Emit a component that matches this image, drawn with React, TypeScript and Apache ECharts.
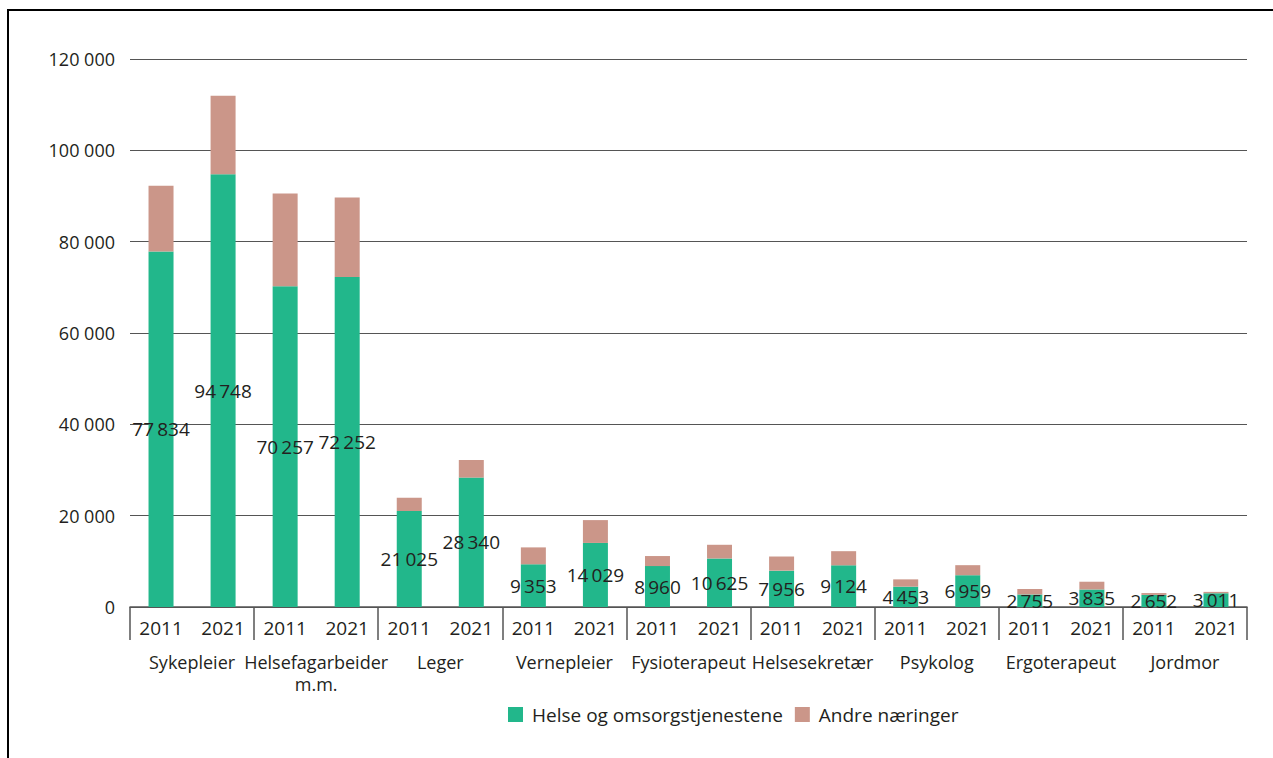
import React, { useEffect, useRef } from "react";
import * as echarts from "echarts";

const groups = [
  "Sykepleier",
  "Helsefagarbeider\nm.m.",
  "Leger",
  "Vernepleier",
  "Fysioterapeut",
  "Helsesekretær",
  "Psykolog",
  "Ergoterapeut",
  "Jordmor",
];
const years = ["2011", "2021"];
const helseOmsorg = [77834, 94748, 70257, 72252, 21025, 28340, 9353, 14029, 8960, 10625, 7956, 9124, 4453, 6959, 2755, 3835, 2652, 3011];
const andreNaeringer = [14400, 17200, 20300, 17400, 2900, 3850, 3700, 5000, 2200, 3000, 3100, 3100, 1600, 2200, 1200, 1700, 400, 300];
const yTicks = { min: 0, max: 120000, interval: 20000 };

const FONT = "'Open Sans', sans-serif";
const TEXT = "#231f20";

const fmt = (v: number, sep: string) =>
  String(Math.round(v)).replace(/\B(?=(\d{3})+(?!\d))/g, sep);

export default function App() {
  const ref = useRef<HTMLDivElement>(null);
  useEffect(() => {
    if (!ref.current) return;
    const chart = echarts.init(ref.current, null, { renderer: "svg" });
    const yearCats: string[] = [];
    groups.forEach(() => years.forEach((y) => yearCats.push(y)));
    chart.setOption({
      animation: false,
      textStyle: { fontFamily: FONT },
      grid: { left: 130, right: 26, top: 59, bottom: 151, containLabel: false },
      legend: {
        left: 508,
        top: 705,
        padding: 0,
        itemWidth: 15,
        itemHeight: 15,
        itemGap: 12,
        icon: "rect",
        textStyle: { fontFamily: FONT, fontSize: 19, color: TEXT, padding: [0, 0, 0, 4] },
        data: ["Helse og omsorgstjenestene", "Andre næringer"],
      },
      xAxis: [
        {
          type: "category",
          position: "bottom",
          data: yearCats,
          axisLine: { show: true, lineStyle: { color: "#555", width: 1.5 } },
          axisTick: { show: false },
          axisLabel: { interval: 0, margin: 11, fontSize: 19, lineHeight: 20, color: TEXT, fontFamily: FONT },
        },
        {
          type: "category",
          position: "bottom",
          offset: 0,
          data: groups,
          axisLine: { show: false },
          axisTick: { show: true, interval: 0, length: 33, lineStyle: { color: "#555", width: 1.5 } },
          axisLabel: { interval: 0, margin: 44, fontSize: 18, lineHeight: 22, color: TEXT, fontFamily: FONT },
        },
      ],
      yAxis: {
        type: "value",
        min: yTicks.min,
        max: yTicks.max,
        interval: yTicks.interval,
        axisLine: { show: false },
        axisTick: { show: false },
        splitLine: { lineStyle: { color: "#555", width: 1.2 } },
        axisLabel: {
          margin: 15,
          fontSize: 18,
          color: TEXT,
          fontFamily: FONT,
          formatter: (v: number) => fmt(v, " "),
        },
      },
      series: [
        {
          name: "Helse og omsorgstjenestene",
          type: "bar",
          stack: "total",
          xAxisIndex: 0,
          barWidth: 25,
          data: helseOmsorg,
          itemStyle: { color: "#22b78b" },
          label: {
            show: true,
            position: "inside",
            color: TEXT,
            fontSize: 19,
            fontFamily: FONT,
            formatter: (p: any) => fmt(p.value, "\u2009"),
          },
        },
        {
          name: "Andre næringer",
          type: "bar",
          stack: "total",
          xAxisIndex: 0,
          barWidth: 25,
          data: andreNaeringer,
          itemStyle: { color: "#cb9689" },
        },
      ],
    });
    return () => chart.dispose();
  }, []);
  return (
    <>
      <div
        ref={ref}
        style={{ position: "fixed", left: 0, top: 0, width: 1273, height: 758, background: "#fff" }}
      />
      <div
        style={{
          position: "fixed",
          left: 7,
          top: 9,
          width: 1300,
          height: 800,
          borderTop: "2px solid #000",
          borderLeft: "2px solid #000",
          pointerEvents: "none",
        }}
      />
    </>
  );
}
